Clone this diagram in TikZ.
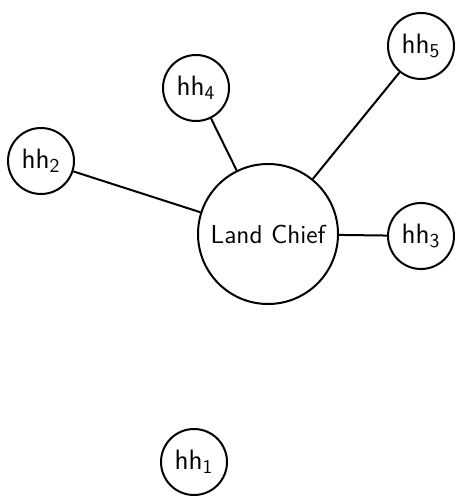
\documentclass[tikz,border=0pt]{standalone}
\begin{document}
\begin{tikzpicture}[x=0.5pt,y=-0.5pt]
\tikzstyle{vx} = [circle,draw=black,line width=1pt,font=\sffamily\fontsize{14}{17}\selectfont,inner sep=1pt,minimum size=33pt] %vertex
\tikzstyle{vc} = [circle,draw=black,line width=1pt,font=\sffamily\fontsize{13}{16}\selectfont,inner sep=1pt,minimum size=70pt] %chief
\tikzstyle{ue} = [-,line width=1pt] %undirected edge
\useasboundingbox (0,0) rectangle (456,496);
\node[vc](vl)at(268,234){Land Chief};
\node[vx](v1)at(194,462){hh\textsubscript{1}};
\node[vx](v2)at(41,161){hh\textsubscript{2}};
\node[vx](v3)at(421,236){hh\textsubscript{3}};
\node[vx](v4)at(196,88){hh\textsubscript{4}};
\node[vx](v5)at(421,46){hh\textsubscript{5}};
\path(vl) edge [ue] (v2);
\path(vl) edge [ue] (v4);
\path(vl) edge [ue] (v5);
\path(vl) edge [ue] (v3);
\end{tikzpicture}
\end{document}
